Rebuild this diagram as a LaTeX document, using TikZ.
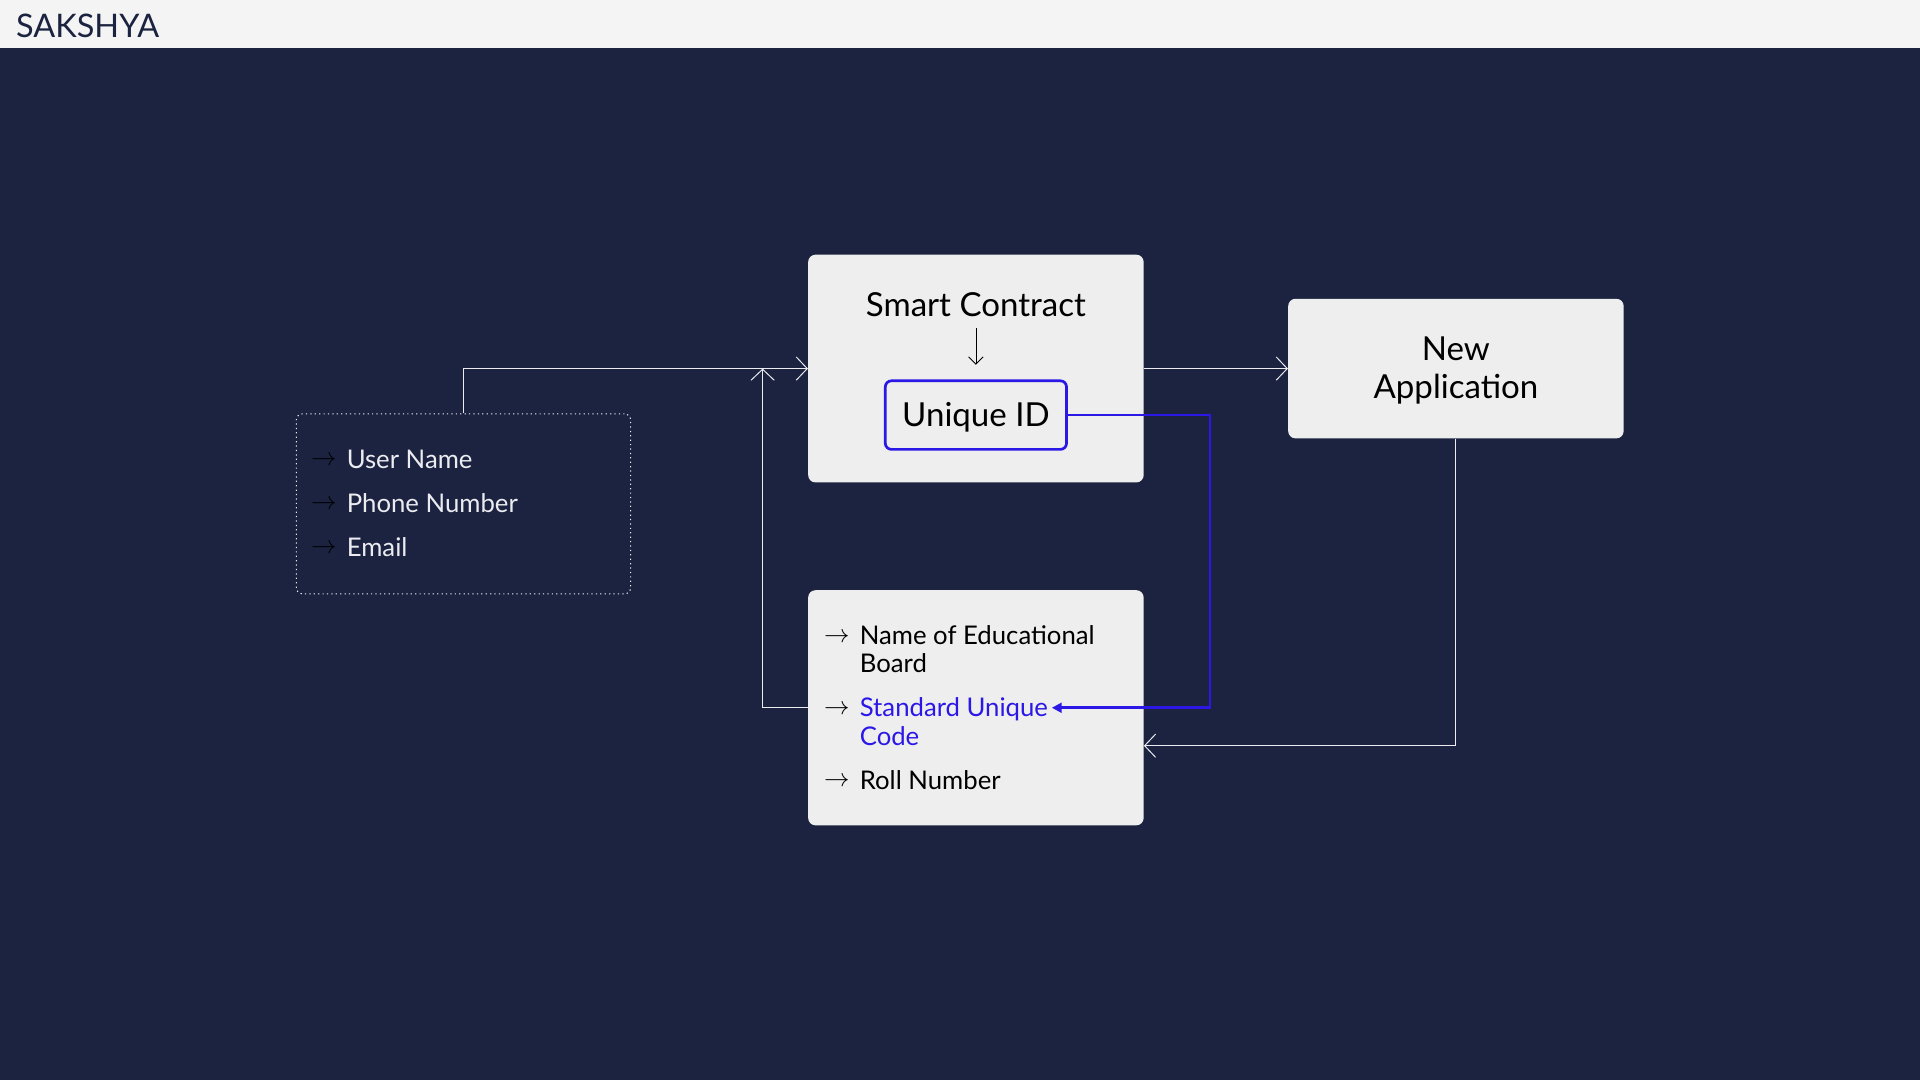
\documentclass[tikz,border=0pt]{standalone}
\usepackage{fontspec}
\setmainfont{Lato}
\usetikzlibrary{arrows.meta}
\definecolor{navy}{RGB}{27,35,64}
\definecolor{bar}{RGB}{244,244,244}
\definecolor{paper}{RGB}{238,238,238}
\definecolor{idblue}{RGB}{43,24,230}
\definecolor{wire}{RGB}{236,236,240}
\begin{document}
\begin{tikzpicture}[x=1pt,y=-1pt,
    card/.style={fill=paper,rounded corners=6pt,minimum width=274pt,inner sep=0pt},
    big/.style={inner sep=0pt,font=\fontsize{27}{31}\selectfont},
    entry/.style={anchor=west,inner sep=0pt,text height=15pt,text depth=0pt,
      font=\fontsize{21}{23}\selectfont},
    bullet/.style={entry,
      label={[inner sep=0pt,label distance=8pt,yshift=-1.5pt,font=\fontsize{22}{22}\selectfont]left:$\rightarrow$}},
    wirearrow/.style={wire,line width=0.8pt,-{Straight Barb[length=9pt,width=19pt]}},
    darkarrow/.style={black,line width=0.7pt,-{Straight Barb[length=6pt,width=12pt]}}]
        \def\W{1568} \def\H{882}
        \fill[navy] (0,0) rectangle (\W,\H);
        \fill[bar] (0,0) rectangle (\W,39);
        \node (title) at (13,21) [anchor=west,inner sep=0pt,text=navy,font=\fontsize{26.5}{26}\selectfont] {SAKSHYA};

        \node (info) at (378.5,411.5) [draw=wire,line width=0.9pt,dash pattern=on 1pt off 2.6pt,rounded corners=5pt,minimum width=273pt,minimum height=147pt] {};
        \node (un) at (283,375) [bullet,text=wire] {User Name};
        \node (pn) at (283,411) [bullet,text=wire] {Phone Number};
        \node (em) at (283,447) [bullet,text=wire] {Email};

        \node (sc) at (797,301) [card,minimum height=186pt] {};
        \node (sctitle) at (797,249) [big] {Smart Contract};
        \node (uid) at (797,339) [big,text height=19pt,text depth=0pt,draw=idblue,line width=2.2pt,rounded corners=5pt,minimum width=148pt,minimum height=56pt] {Unique ID};
        \draw[darkarrow,shorten <=9pt,shorten >=12pt] (sctitle) -- (uid);

        \node (app) at (1189,301) [card,minimum height=114pt] {};
        \node (apptext) at (1189,302.5) [big,align=center] {New\\Application};

        \node (edu) at (797,578) [card,minimum height=192pt] {};
        \node (board1) at (702,519) [bullet] {Name of Educational};
        \node (board2) at (702,542) [entry] {Board};
        \node (code1) at (702,578) [bullet,text=idblue] {Standard Unique};
        \node (code2) at (702,601) [entry,text=idblue] {Code};
        \node (roll) at (702,637) [bullet] {Roll Number};

        \draw[wirearrow] (info.north) |- (sc.west);
        \draw[wirearrow] (sc.east) -- (app.west);
        \draw[wirearrow] (app.south) |- ([yshift=-31pt]edu.east);
        \draw[wirearrow] (edu.west) -| ([xshift=-37pt]sc.west);
        \draw[idblue,line width=2.2pt,-{Triangle[length=8pt,width=8pt]},shorten >=-1pt] (uid.east) -- ++(116,0) |- ([xshift=4pt]code1.east);
      \end{tikzpicture}
\end{document}
